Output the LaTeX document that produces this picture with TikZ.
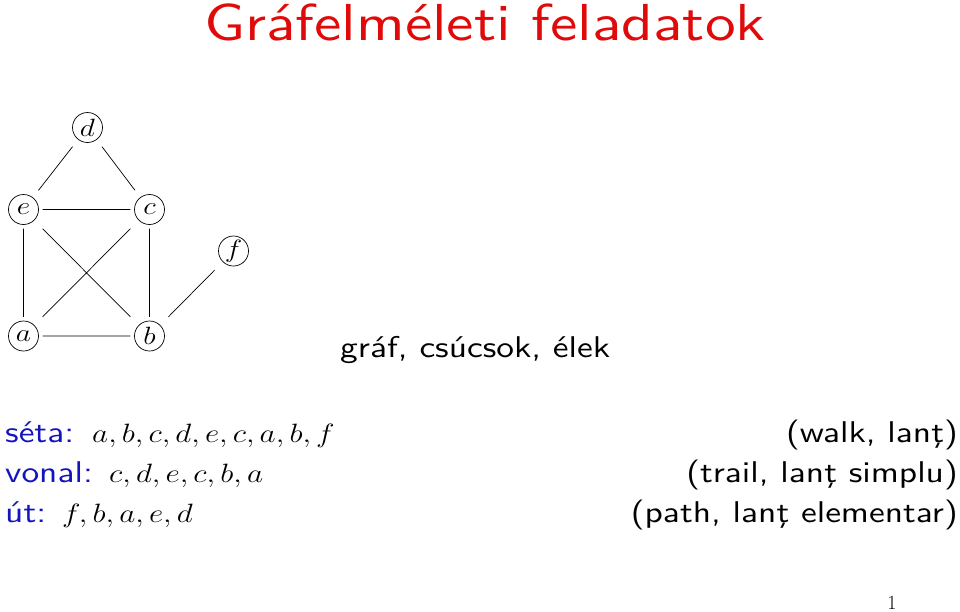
\RequirePackage{fix-cm}
\documentclass[tikz,border=0pt]{standalone}
\usepackage{graphicx}
\usepackage{fontspec}
\newfontfamily\bodyfont{lmsans10-regular.otf}[FakeStretch=1.18]
\definecolor{titlered}{RGB}{225,10,10}
\definecolor{lblblue}{RGB}{20,20,190}
\newcommand\mymath[1]{\scalebox{1.18}[1]{$#1$}}
\begin{document}
\begin{tikzpicture}[x=1pt,y=-1pt,
  vert/.style={rectangle,minimum size=38pt,inner sep=0pt,
    font=\fontsize{25}{27}\selectfont,
    path picture={\draw[line width=0.7pt] (path picture bounding box.center) circle (15pt);}},
  edg/.style={draw,line width=0.7pt},
  body/.style={font=\bodyfont\fontsize{30}{34}\selectfont,inner sep=0pt},
  mth/.style={font=\fontsize{26.5}{30}\selectfont,inner sep=0pt,anchor=base west},
  lbl/.style={body,text=lblblue,anchor=base west}]
\useasboundingbox (0,0) rectangle (960,611);
\node[anchor=base,text=titlered,font=\bodyfont\fontsize{52}{60}\selectfont,inner sep=0pt] (title) at (485,40) {Gráfelméleti feladatok};
\node[vert] (d) at (87.5,127.5) {\mymath{d}};
\node[vert] (e) at (23.5,209.5) {\mymath{e}};
\node[vert] (c) at (149.5,209.5) {\mymath{c}};
\node[vert] (a) at (23.5,336) {\mymath{a}};
\node[vert] (b) at (149.5,336) {\mymath{b}};
\node[vert] (f) at (233.5,251) {\mymath{f}};
\draw[edg] (d)--(e) (d)--(c) (e)--(c) (e)--(a) (e)--(b) (c)--(a) (c)--(b) (a)--(b) (b)--(f);
\node[body,anchor=base west] (cap) at (340,357) {gráf, csúcsok, élek};
\node[lbl] (l1) at (5,442) {séta:};
\node[mth] (m1) at (92,442) {\mymath{a,b,c,d,e,c,a,b,f}};
\node[lbl] (l2) at (5,482) {vonal:};
\node[mth] (m2) at (109,482) {\mymath{c,d,e,c,b,a}};
\node[lbl] (l3) at (5,522) {út:};
\node[mth] (m3) at (62,522) {\mymath{f,b,a,e,d}};
\node[body,anchor=base east] (t1) at (958,442) {(walk, lanţ)};
\node[body,anchor=base east] (t2) at (958,482) {(trail, lanţ simplu)};
\node[body,anchor=base east] (t3) at (958,522) {(path, lanţ elementar)};
\node[anchor=base,font=\fontsize{20}{24}\selectfont,inner sep=0pt] (pg) at (892,609) {1};
\end{tikzpicture}
\end{document}
